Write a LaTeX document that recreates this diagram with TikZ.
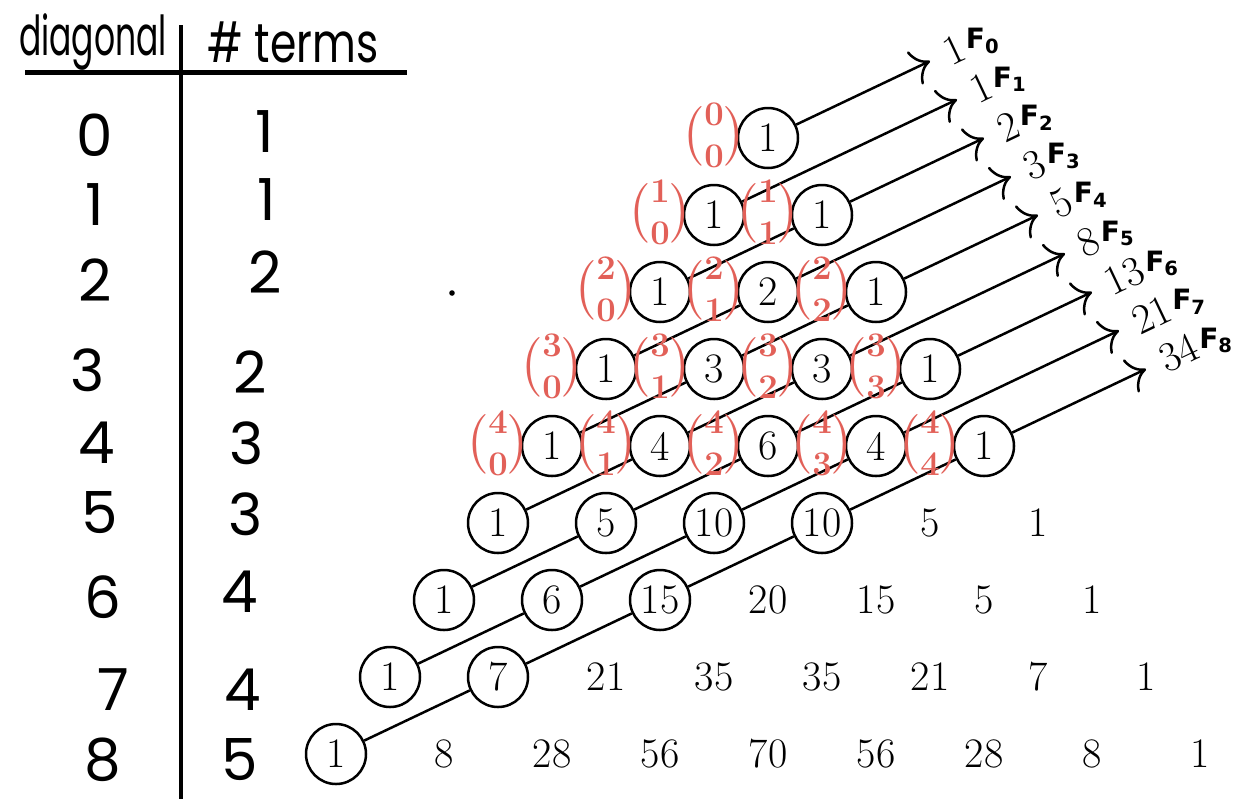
\documentclass[tikz,border=0pt]{standalone}
\usepackage{amsmath}
\usepackage{fontspec}
\usetikzlibrary{arrows.meta}

\newfontfamily\handfont{Poppins}
\newfontfamily\markfont{DejaVu Sans}
\definecolor{annotred}{RGB}{226,96,88}

\begin{document}
\begin{tikzpicture}[x=0.5pt, y=-0.5pt, line width=1.25pt, >={To[scale=2]},
    entry/.style={circle, minimum size=30pt, inner sep=0pt, font=\fontsize{21}{25}\selectfont},
    ring/.style={entry, draw},
    hand/.style={font=\handfont\fontsize{25}{30}\selectfont},
    digit/.style={font=\handfont\fontsize{29}{34}\selectfont},
    binom/.style={text=annotred, inner sep=0pt, font=\fontsize{24}{28}\selectfont\boldmath},
    fib/.style={rotate=25.4, anchor=west, inner sep=0pt, font=\fontsize{21}{25}\selectfont},
    fsub/.style={anchor=west, inner sep=0.5pt, font=\markfont\bfseries\fontsize{14}{14}\selectfont}]

    \useasboundingbox (0,0) rectangle (1258,799);

    % Define spacing of the triangle
    \def\hsep{54}  % half the distance between neighbours in a row
    \def\vsep{77}  % distance between rows

    % Table on the left
    \node[hand] (head-d) at (93,42) {\scalebox{0.66}[1.1]{diagonal}};
    \node[hand] (head-t) at (293,42) {\scalebox{0.85}[1.1]{\# terms}};
    \draw[line width=2.5pt] (25,72) -- (407,72);
    \draw[line width=2.2pt] (181,25) -- (181,799);
    \foreach \d/\t/\xd/\yd/\xt/\yt in {0/1/95/135/265/132, 1/1/95/205/267/200, 2/2/95/280/265/272,
                                        3/2/88/370/250/372, 4/3/97/443/247/443, 5/3/100/513/246/514,
                                        6/4/103/597/240/592, 7/4/113/690/243/690, 8/5/103/760/240/760}
    {
        \node[digit] (D-\d) at (\xd,\yd) {\d};
        \node[digit] (N-\d) at (\xt,\yt) {\t};
    }
    \fill (452,293) circle (1.4pt);

    % Pascal's triangle, circled while n+j <= 8
    \foreach \n/\row in {0/{1}, 1/{1,1}, 2/{1,2,1}, 3/{1,3,3,1}, 4/{1,4,6,4,1}, 5/{1,5,10,10,5,1},
                         6/{1,6,15,20,15,5,1}, 7/{1,7,21,35,35,21,7,1}, 8/{1,8,28,56,70,56,28,8,1}}
        \foreach \v [count=\j from 0] in \row {
            \pgfmathtruncatemacro\s{\n+\j}
            \ifnum\s<9
                \node[ring] (P-\n-\j) at ({768+(2*\j-\n)*\hsep}, {138+\n*\vsep}) {\v};
            \else
                \node[entry] (P-\n-\j) at ({768+(2*\j-\n)*\hsep}, {138+\n*\vsep}) {\v};
            \fi
        }

    % Shallow diagonals
    \foreach \k in {2,...,8} {
        \pgfmathtruncatemacro\m{\k/2}
        \foreach \j [evaluate=\j as \a using int(\k-\j), evaluate=\j as \b using int(\k-\j+1),
                     evaluate=\j as \c using int(\j-1)] in {1,...,\m}
            \draw (P-\b-\c) -- (P-\a-\j);
    }

    % Arrows and their sums
    \foreach \k/\f in {0/1, 1/1, 2/2, 3/3, 4/5, 5/8, 6/13, 7/21, 8/34} {
        \pgfmathtruncatemacro\m{\k/2}
        \pgfmathtruncatemacro\a{\k-\m}
        \coordinate (T-\k) at ({768-\k*\hsep+(1+\k/2)*162}, {138+\k*\vsep-(1+\k/2)*\vsep});
        \draw[->] (P-\a-\m) -- (T-\k);
        \node[fib] (S-\k) at ({768-\k*\hsep+(1+\k/2)*162+14}, {138+\k*\vsep-(1+\k/2)*\vsep-7}) {\f};
        \node[fsub] (F-\k) at ([yshift=2pt]S-\k.east) {F\textsubscript{\k}};
    }

    % Red binomial notes, rows 0 to 4
    \foreach \n in {0,...,4}
        \foreach \j in {0,...,\n}
            \node[binom] (B-\n-\j) at ({768+(2*\j-\n)*\hsep-54}, {138+\n*\vsep-3}) {$\binom{\n}{\j}$};

\end{tikzpicture}
\end{document}
